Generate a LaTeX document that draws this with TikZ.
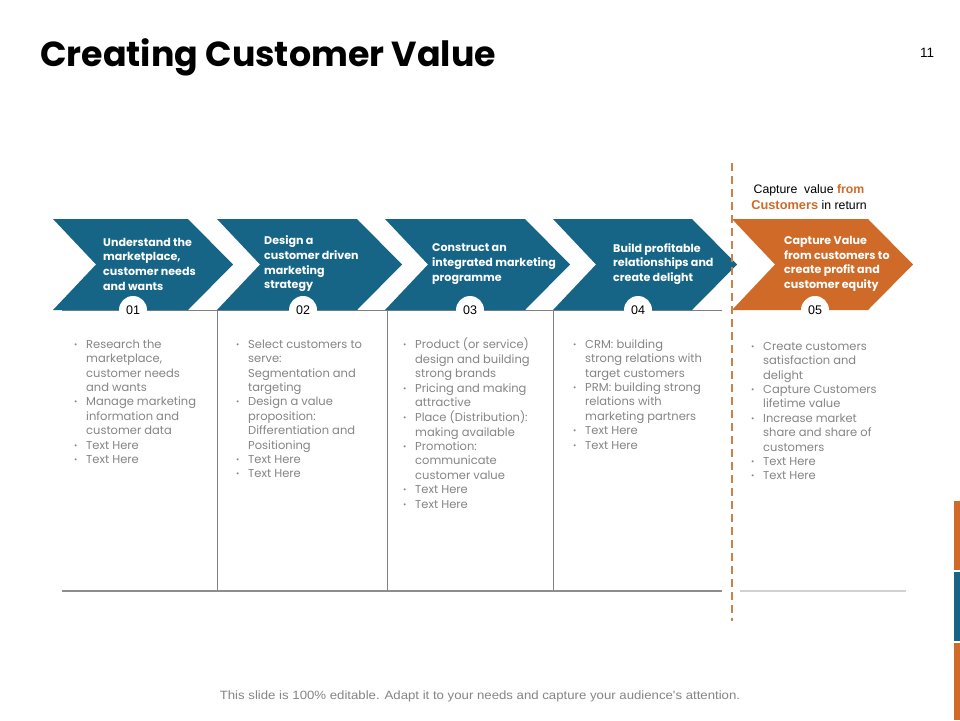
\documentclass[tikz,border=0pt]{standalone}
\usepackage{fontspec}
\usepackage{graphicx}
\setmainfont{Poppins}
\newfontfamily\arial{Liberation Sans}
\definecolor{cblue}{HTML}{166587}
\definecolor{corange}{HTML}{D06A29}
\definecolor{cdash}{HTML}{C8824A}
\definecolor{ctext}{HTML}{858585}
\definecolor{cline}{HTML}{808080}
\newcommand\bl{\makebox[12pt][l]{\raisebox{1pt}{\fontsize{8}{8}\selectfont\textbullet}}}
\tikzset{
  chevtext/.style={anchor=west, align=left, text=white, inner sep=0pt,
    font=\bfseries\fontsize{11.1}{14.7}\selectfont},
  numcirc/.style={circle, fill=white, minimum size=28pt, inner sep=0pt,
    font=\arial\fontsize{12.5}{12.5}\selectfont, text=black},
  body/.style={anchor=north west, inner sep=0pt, text=ctext,
    font=\fontsize{11.5}{14.4}\selectfont},
  frameline/.style={draw=cline, line width=0.8pt},
}
\newcommand\chev[3]{\fill[#3] (#1,219) -- (#2,219) -- ({#2+45},264.5) -- (#2,310) -- (#1,310) -- ({#1+43},264.5) -- cycle;}
\begin{document}
\begin{tikzpicture}[x=1pt,y=-1pt]
\useasboundingbox[fill=white] (0,0) rectangle (960,720);

% title and page number
\node[anchor=base west, inner sep=0pt, font=\bfseries\fontsize{34.8}{38}\selectfont] (title) at (40,66) {Creating Customer Value};
\node[font=\arial\fontsize{13.5}{13.5}\selectfont] (page) at (927,53) {11};

% frame lines
\draw[frameline] (62,310.5) -- (722,310.5);
\draw[frameline] (217,310) -- (217,591);
\draw[frameline] (387,310) -- (387,591);
\draw[frameline] (553,310) -- (553,591);
\draw[draw=cline!90, line width=1.4pt] (62,591) -- (722,591);
\draw[draw=black!18, line width=1.2pt] (740,591) -- (906,591);

% chevrons
\chev{53}{188}{cblue}
\chev{217}{357}{cblue}
\chev{385}{525}{cblue}
\chev{553}{692}{cblue}
\chev{732}{868}{corange}

% dashed separator
\draw[cdash, line width=1.6pt, dash pattern=on 8pt off 5pt] (732,163) -- (732,621);

% chevron texts
\node[chevtext] (t1) at (103,264) {Understand the\\marketplace,\\customer needs\\and wants};
\node[chevtext] (t2) at (264,264) {Design a\\customer driven\\marketing\\strategy};
\node[chevtext] (t3) at (432,264) {Construct an\\integrated marketing\\programme};
\node[chevtext] (t4) at (613,264) {Build profitable\\relationships and\\create delight};
\node[chevtext] (t5) at (784,264) {Capture Value\\from customers to\\create profit and\\customer equity};

% number circles
\node[numcirc] (n1) at (133,310) {01};
\node[numcirc] (n2) at (303,310) {02};
\node[numcirc] (n3) at (470,310) {03};
\node[numcirc] (n4) at (638,310) {04};
\node[numcirc] (n5) at (815,310) {05};

% annotation
\node[align=center, inner sep=0pt, font=\arial\fontsize{12.3}{16}\selectfont] (note) at (809,197)
 {Capture\ \ value \textcolor{corange}{\bfseries from}\\\textcolor{corange}{\bfseries\fontsize{12.8}{16}\selectfont Customers} in return};

% bullet columns
\node[body] (c1) at (74,338) {\begin{tabular}{@{}l@{}l@{}}
\bl & Research the\\ & marketplace,\\ & customer needs\\ & and wants\\
\bl & Manage marketing\\ & information and\\ & customer data\\
\bl & Text Here\\
\bl & Text Here
\end{tabular}};
\node[body] (c2) at (236,338) {\begin{tabular}{@{}l@{}l@{}}
\bl & Select customers to\\ & serve:\\ & Segmentation and\\ & targeting\\
\bl & Design a value\\ & proposition:\\ & Differentiation and\\ & Positioning\\
\bl & Text Here\\
\bl & Text Here
\end{tabular}};
\node[body] (c3) at (403,338) {\begin{tabular}{@{}l@{}l@{}}
\bl & Product (or service)\\ & design and building\\ & strong brands\\
\bl & Pricing and making\\ & attractive\\
\bl & Place (Distribution):\\ & making available\\
\bl & Promotion:\\ & communicate\\ & customer value\\
\bl & Text Here\\
\bl & Text Here
\end{tabular}};
\node[body] (c4) at (573,338) {\begin{tabular}{@{}l@{}l@{}}
\bl & CRM: building\\ & strong relations with\\ & target customers\\
\bl & PRM: building strong\\ & relations with\\ & marketing partners\\
\bl & Text Here\\
\bl & Text Here
\end{tabular}};
\node[body] (c5) at (751,340) {\begin{tabular}{@{}l@{}l@{}}
\bl & Create customers\\ & satisfaction and\\ & delight\\
\bl & Capture Customers\\ & lifetime value\\
\bl & Increase market\\ & share and share of\\ & customers\\
\bl & Text Here\\
\bl & Text Here
\end{tabular}};

% footer
\node[font=\arial\fontsize{12}{14}\selectfont, text=ctext] (footer) at (480,696)
 {\scalebox{1.1}[1]{This slide is 100\% editable. Adapt it to your needs and capture your audience's attention.}};

% right edge bars
\fill[corange] (954,501) rectangle (960,570);
\fill[cblue] (954,572) rectangle (960,641);
\fill[corange] (954,643) rectangle (960,720);
\end{tikzpicture}
\end{document}
